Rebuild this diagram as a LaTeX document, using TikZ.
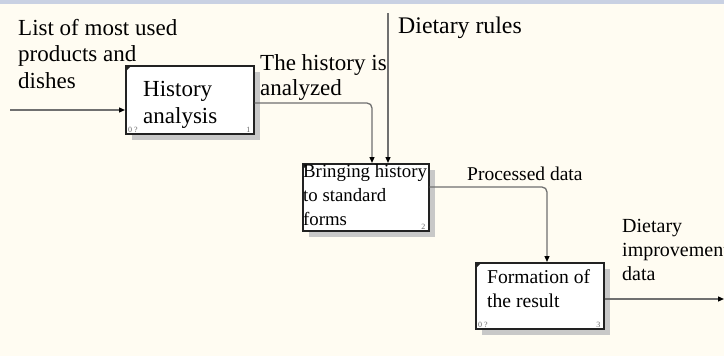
\documentclass[tikz,border=0pt]{standalone}
\usepackage{fontspec}
\setmainfont{Liberation Serif}
\usetikzlibrary{arrows.meta,calc,shadows}
\definecolor{paper}{HTML}{FFFCF2}
\definecolor{band}{HTML}{C9D1E3}
\definecolor{wire}{HTML}{707070}
\definecolor{shade}{HTML}{C8C8C8}
\definecolor{frame}{HTML}{222222}

\begin{document}
\begin{tikzpicture}[x=1pt,y=-1pt,
  activity/.style={draw=frame, line width=1.6pt, fill=white, inner sep=0pt,
    anchor=north west,
    drop shadow={shadow xshift=6pt, shadow yshift=-6pt, fill=shade, opacity=1}},
  wire/.style={draw=wire, line width=1.3pt, rounded corners=5pt,
    -{Triangle[black,length=6pt,width=5pt]}},
  label/.style={inner sep=0pt, anchor=base west, align=left, text=black},
  corner/.style={inner sep=0pt, font=\fontsize{8}{8}\selectfont, text=black!60},
  big/.style={font=\fontsize{23}{26.5}\selectfont},
]
% page
\useasboundingbox (0,0) rectangle (724,356);
\fill[paper] (0,0) rectangle (724,356);
\fill[band] (0,0) rectangle (724,4);

% activity boxes
\node[activity, minimum width=128pt, minimum height=68pt] (hist) at (125,65) {};
\node[activity, minimum width=126pt, minimum height=67pt] (std) at (302,163) {};
\node[activity, minimum width=128pt, minimum height=66pt] (res) at (475,262) {};

% corner marks and box numbers
\foreach \b/\n in {hist/1, std/2, res/3}{
  \fill[frame] ([shift={(1,1)}]\b.north west) -- ++(5,0) -- ++(-5,5) -- cycle;
  \node[corner, anchor=south east] (\b-num) at ([shift={(-4,-2)}]\b.south east) {\n};
}
\node[corner, anchor=south west] (hist-tag) at ([shift={(3,-2)}]hist.south west) {0 ?};
\node[corner, anchor=south west] (res-tag) at ([shift={(3,-2)}]res.south west) {0 ?};

% box texts (anchored at the baseline of the last line)
\node[label, big] (hist-t) at (143,123) {History\\analysis};
\node[label, font=\fontsize{18.8}{24}\selectfont] (std-t) at (303,225) {Bringing history\\to standard\\forms};
\node[label, font=\fontsize{19.6}{24}\selectfont] (res-t) at (487,307) {Formation of\\the result};

% arrow labels
\node[label, big] (in-t) at (18,88) {List of most used\\products and\\dishes};
\node[label, font=\fontsize{23}{25}\selectfont] (h-t) at (260,95) {The history is\\analyzed};
\node[label, font=\fontsize{23.8}{26}\selectfont] (rules-t) at (398,33) {Dietary rules};
\node[label, font=\fontsize{19.5}{24}\selectfont] (p-t) at (467,180) {Processed data};
\node[label, font=\fontsize{20}{24}\selectfont] (out-t) at (622,280) {Dietary\\improvement\\data};

% connectors
\coordinate (src) at (10,110);
\coordinate (rules) at (388,13);
\coordinate (sink) at (724,299);
\draw[wire] (src) -- (src -| hist.west);
\draw[wire] ($(hist.north east)+(0,38)$) -| ($(std.north west)+(70,0)$);
\draw[wire] (rules) -- (rules |- std.north);
\draw[wire] ($(std.north east)+(0,24)$) -| ($(res.north west)+(72,0)$);
\draw[wire] (res.east |- sink) -- (sink);
\end{tikzpicture}
\end{document}
